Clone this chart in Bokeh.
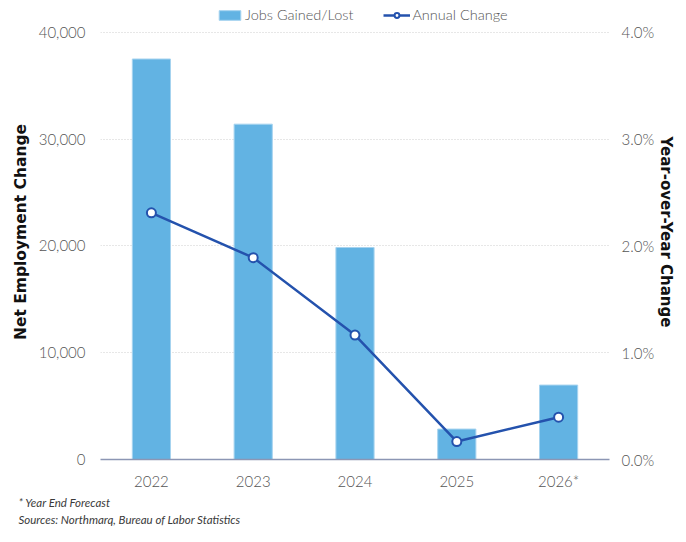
from bokeh.plotting import figure
from bokeh.models import (ColumnDataSource, Range1d, LinearAxis, FixedTicker,
                          NumeralTickFormatter, PrintfTickFormatter, Legend,
                          LegendItem, Title, FactorRange)
from bokeh.embed import file_html
from bokeh.resources import INLINE

years = ["2022", "2023", "2024", "2025", "2026*"]
jobs = [37500, 31400, 19850, 2850, 6970]
yoy_pct = [2.31, 1.89, 1.165, 0.168, 0.396]
left_ticks = [0, 10000, 20000, 30000, 40000]
right_ticks = [0, 1, 2, 3, 4]

FONT = "Lato Light, Lato"
TICK_COLOR = "#555555"

# layout (pixels): frame from TOP to BOTTOM, axis maximum drawn at Y_MAX_PX
TOP, BOTTOM, Y_MAX_PX = 4, 462, 32
stretch = (BOTTOM - TOP) / (BOTTOM - Y_MAX_PX)

src = ColumnDataSource(dict(year=years, jobs=jobs, yoy=yoy_pct))

p = figure(x_range=FactorRange(*years, range_padding=0),
           y_range=Range1d(0, left_ticks[-1] * stretch),
           width=678, height=526, output_backend="svg", toolbar_location=None,
           min_border_left=100, min_border_right=58, min_border_top=TOP,
           min_border_bottom=58)
p.outline_line_color = None
p.background_fill_color = "white"

p.extra_y_ranges = {"pct": Range1d(0, right_ticks[-1] * stretch)}

bars = p.vbar(x="year", top="jobs", width=0.375, source=src,
              fill_color="#62b3e3", line_color="#a6d3ef", line_width=1)
line = p.line(x="year", y="yoy", source=src, y_range_name="pct",
              line_color="#2452ad", line_width=2.5)
pts = p.scatter(x="year", y="yoy", source=src, y_range_name="pct",
                size=9, fill_color="white", line_color="#2452ad", line_width=2)

# grid
p.xgrid.grid_line_color = None
p.ygrid.grid_line_color = "#cfcfcf"
p.ygrid.grid_line_dash = "1 2"
p.ygrid.grid_line_width = 1
p.ygrid.ticker = FixedTicker(ticks=left_ticks)

# x axis
xa = p.xaxis[0]
xa.axis_line_color = "#8c96b4"
xa.axis_line_width = 1.5
xa.major_tick_line_color = None
xa.minor_tick_line_color = None
xa.major_tick_out = 0
xa.major_label_standoff = 12
xa.major_label_text_font = FONT
xa.major_label_text_font_size = "15px"
xa.major_label_text_color = TICK_COLOR

# left y axis
ya = p.yaxis[0]
ya.ticker = FixedTicker(ticks=left_ticks)
ya.formatter = NumeralTickFormatter(format="0,0")
ya.axis_line_color = None
ya.major_tick_line_color = None
ya.minor_tick_line_color = None
ya.major_tick_out = 0
ya.major_label_standoff = 15
ya.major_label_text_font = FONT
ya.major_label_text_font_size = "15px"
ya.major_label_text_color = TICK_COLOR
ya.axis_label = "Net Employment Change"
ya.axis_label_standoff = 6
ya.axis_label_text_font = "DejaVu Sans"
ya.axis_label_text_font_style = "bold"
ya.axis_label_text_font_size = "15.5px"
ya.axis_label_text_color = "#111111"

# right y axis
ra = LinearAxis(y_range_name="pct", ticker=FixedTicker(ticks=right_ticks),
                formatter=PrintfTickFormatter(format="%.1f%%"))
ra.axis_line_color = None
ra.major_tick_line_color = None
ra.minor_tick_line_color = None
ra.major_tick_out = 0
ra.major_label_standoff = 12
ra.major_label_text_font = FONT
ra.major_label_text_font_size = "15px"
ra.major_label_text_color = TICK_COLOR
ra.axis_label = "Year-over-Year Change"
ra.axis_label_standoff = 0
ra.axis_label_text_font = "DejaVu Sans"
ra.axis_label_text_font_style = "bold"
ra.axis_label_text_font_size = "15px"
ra.axis_label_text_color = "#111111"
p.add_layout(ra, "right")

# footnotes
for txt in ["* Year End Forecast", "Sources: Northmarq, Bureau of Labor Statistics"]:
    t = Title(text=txt, align="left", offset=-82, text_font="Lato",
              text_font_style="italic", text_font_size="11.5px",
              text_color="#3a3a3a", standoff=2)
    p.add_layout(t, "below")

# legend (inside the top of the frame)
legend = Legend(items=[LegendItem(label="Jobs Gained/Lost", renderers=[bars]),
                       LegendItem(label="Annual Change", renderers=[line, pts])],
                orientation="horizontal", location=(116, BOTTOM - 26),
                padding=0, margin=0, spacing=30, glyph_width=27,
                glyph_height=12, label_standoff=2,
                border_line_color=None, background_fill_alpha=0,
                label_text_font=FONT, label_text_font_size="14.5px",
                label_text_color=TICK_COLOR)
p.add_layout(legend, "center")

open("out.html", "w").write(file_html(p, INLINE))
